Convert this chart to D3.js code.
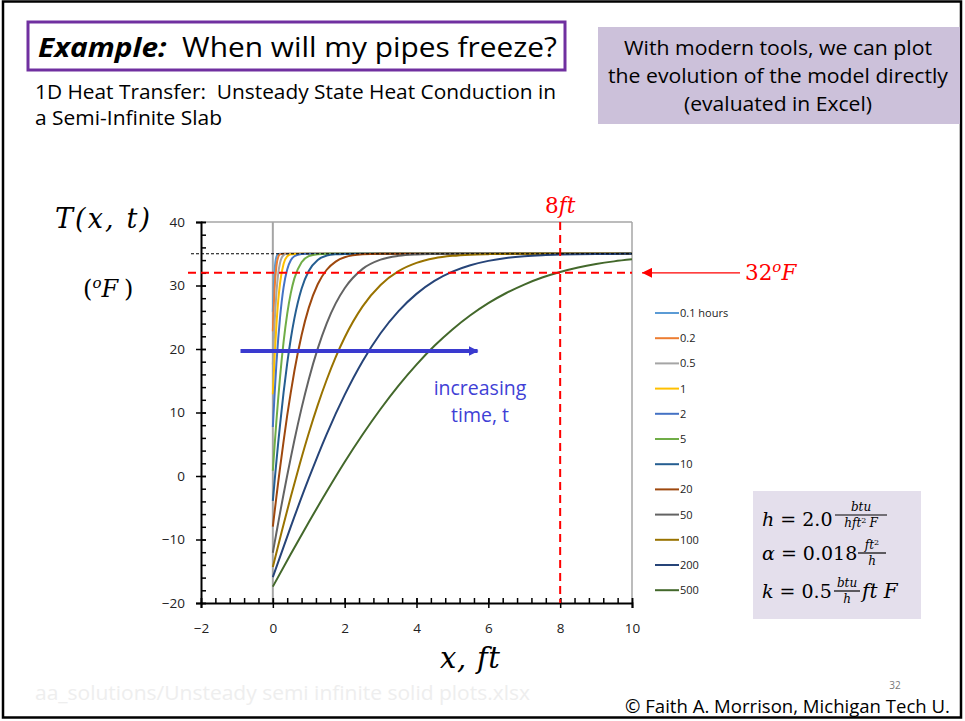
<!DOCTYPE html>
<html>
<head>
<meta charset="utf-8">
<script src="https://cdn.jsdelivr.net/npm/d3@7"></script>
<style>
  body { margin: 0; background: #fff; }
  svg text { font-family: "Open Sans", Lato, sans-serif; }
  .math { font-family: "DejaVu Serif", "Liberation Serif", serif; font-style: italic; }
  .up { font-style: normal; }
</style>
</head>
<body>
<svg id="chart" width="965" height="721"></svg>
<script>
// ---- data ----
const seriesNames = ["0.1 hours", "0.2", "0.5", "1", "2", "5", "10", "20", "50", "100", "200", "500"];
const seriesColors = ["#5b9bd5", "#ed7d31", "#a5a5a5", "#ffc000", "#4472c4", "#70ad47",
                      "#255e91", "#9e480e", "#636363", "#997300", "#264478", "#43682b"];

// x positions (ft) of the sampled points
const xFine   = [0, 0.05, 0.1, 0.15, 0.2, 0.3, 0.4, 0.5, 0.6, 0.8, 1, 1.25, 1.5, 1.75, 2, 2.5, 3, 3.5, 4, 4.5, 5, 6, 7, 8, 9, 10];
const xMid    = [0, 0.25, 0.5, 0.75, 1, 1.25, 1.5, 1.75, 2, 2.5, 3, 3.5, 4, 4.5, 5, 5.5, 6, 6.5, 7, 8, 9, 10];
const xCoarse = [0, 0.5, 1, 1.5, 2, 2.5, 3, 3.5, 4, 4.5, 5, 5.5, 6, 6.5, 7, 7.5, 8, 8.5, 9, 9.5, 10];

// temperatures (F) for each time, on the grids above
const T_0_1 = [25.85, 32.34, 34.52, 34.95, 35, 35, 35, 35, 35, 35, 35, 35, 35, 35, 35, 35, 35, 35, 35, 35, 35, 35, 35, 35, 35, 35];
const T_0_2 = [22.78, 29.58, 33.10, 34.49, 34.90, 35, 35, 35, 35, 35, 35, 35, 35, 35, 35, 35, 35, 35, 35, 35, 35, 35, 35, 35, 35, 35];
const T_0_5 = [17.54, 24.16, 28.84, 31.86, 33.54, 34.78, 34.98, 35, 35, 35, 35, 35, 35, 35, 35, 35, 35, 35, 35, 35, 35, 35, 35, 35, 35, 35];
const T_1   = [12.87, 18.91, 23.81, 27.60, 30.34, 33.44, 34.58, 34.91, 34.98, 35, 35, 35, 35, 35, 35, 35, 35, 35, 35, 35, 35, 35, 35, 35, 35, 35];
const T_2   = [7.72, 12.96, 17.74, 21.63, 24.92, 29.75, 32.53, 33.97, 34.61, 34.96, 35, 35, 35, 35, 35, 35, 35, 35, 35, 35, 35, 35, 35, 35, 35, 35];
const T_5   = [0.82, 4.88, 8.70, 12.24, 15.53, 21.15, 25.53, 28.80, 31.12, 33.67, 34.62, 34.94, 34.99, 35, 35, 35, 35, 35, 35, 35, 35, 35, 35, 35, 35, 35];
const T_10  = [-3.91, -0.75, 2.30, 5.25, 8.01, 13.20, 17.72, 21.61, 24.82, 29.50, 32.29, 34.02, 34.70, 34.92, 34.98, 35, 35, 35, 35, 35, 35, 35, 35, 35, 35, 35];
const T_20  = [-7.98, -5.60, -3.26, -0.97, 1.25, 5.51, 9.53, 13.18, 16.53, 22.17, 26.47, 30.19, 32.48, 33.77, 34.45, 34.91, 34.99, 35, 35, 35, 35, 35, 35, 35, 35, 35];
const T_50  = [-12.08, -10.50, -8.94, -7.38, -5.84, -2.84, 0.07, 2.89, 5.62, 10.69, 15.21, 20.06, 24.05, 27.18, 29.57, 32.62, 34.07, 34.68, 34.90, 34.97, 35, 35, 35, 35, 35, 35];
const T_100 = [-14.32, -8.69, -3.26, 1.89, 6.73, 11.16, 15.16, 18.72, 21.82, 26.72, 30.09, 32.26, 33.56, 34.29, 34.67, 34.86, 34.94, 34.98, 34.99, 35, 35, 35];
const T_200 = [-15.93, -7.96, -0.39, 6.61, 12.77, 18.08, 22.48, 25.97, 28.68, 30.72, 32.18, 33.19, 33.88, 34.33, 34.61, 34.78, 34.88, 34.94, 34.97, 34.98, 34.99];
const T_500 = [-17.42, -12.30, -7.29, -2.45, 2.20, 6.53, 10.55, 14.23, 17.54, 20.50, 23.08, 25.31, 27.22, 28.82, 30.15, 31.25, 32.12, 32.83, 33.38, 33.80, 34.12];

const xTickLabels = [-2, 0, 2, 4, 6, 8, 10];
const yTickLabels = [-20, -10, 0, 10, 20, 30, 40];
const initialTemp = 35;
const freezeTemp = 32;
const depthMark = 8;

const grids = [xFine, xFine, xFine, xFine, xFine, xFine, xFine, xFine, xFine, xMid, xCoarse, xCoarse];
const temps = [T_0_1, T_0_2, T_0_5, T_1, T_2, T_5, T_10, T_20, T_50, T_100, T_200, T_500];
const series = seriesNames.map((name, i) => ({
  name: name,
  color: seriesColors[i],
  points: grids[i].map((xv, j) => [xv, temps[i][j]])
}));

// ---- setup ----
const svg = d3.select("#chart");
const x = d3.scaleLinear().domain([-2, 10]).range([201, 632]);
const y = d3.scaleLinear().domain([-20, 40]).range([603, 222]);

// slide frame
svg.append("rect").attr("x", 3).attr("y", 1.5).attr("width", 958).attr("height", 716)
  .attr("fill", "none").attr("stroke", "#000").attr("stroke-width", 2.5);

// title box
svg.append("rect").attr("x", 28).attr("y", 22).attr("width", 537).attr("height", 48)
  .attr("fill", "#fff").attr("stroke", "#7030a0").attr("stroke-width", 3);
const title = svg.append("text").attr("x", 38).attr("y", 57).style("font-size", "27.5px")
  .attr("textLength", 519).attr("lengthAdjust", "spacingAndGlyphs");
title.append("tspan").style("font-weight", "bold").style("font-style", "italic").text("Example:");
title.append("tspan").attr("xml:space", "preserve").text("  When will my pipes freeze?");

svg.selectAll("text.sub")
  .data([["1D Heat Transfer:  Unsteady State Heat Conduction in", 521], ["a Semi-Infinite Slab", 187]])
  .enter().append("text")
  .attr("class", "sub")
  .attr("x", 35)
  .attr("y", (d, i) => 99 + i * 26)
  .attr("xml:space", "preserve")
  .attr("textLength", d => d[1]).attr("lengthAdjust", "spacingAndGlyphs")
  .style("font-size", "19.5px")
  .text(d => d[0]);

// note box top right
svg.append("rect").attr("x", 598).attr("y", 27).attr("width", 362).attr("height", 97).attr("fill", "#ccc1da");
svg.selectAll("text.note")
  .data([["With modern tools, we can plot", 308], ["the evolution of the model directly", 340], ["(evaluated in Excel)", 188]])
  .enter().append("text")
  .attr("class", "note")
  .attr("x", 778)
  .attr("y", (d, i) => 55 + i * 28)
  .attr("text-anchor", "middle")
  .attr("textLength", d => d[1]).attr("lengthAdjust", "spacingAndGlyphs")
  .style("font-size", "20px")
  .text(d => d[0]);

// ---- plot ----
// frame top and right
svg.append("line").attr("x1", x(-2)).attr("x2", x(10)).attr("y1", y(40)).attr("y2", y(40))
  .attr("stroke", "#a6a6a6").attr("stroke-width", 1.5);
svg.append("line").attr("x1", x(10)).attr("x2", x(10)).attr("y1", y(40)).attr("y2", y(-20))
  .attr("stroke", "#a6a6a6").attr("stroke-width", 1.5);

// surface line at x = 0
svg.append("line").attr("x1", x(0)).attr("x2", x(0)).attr("y1", y(40)).attr("y2", y(-20))
  .attr("stroke", "#a5a5a5").attr("stroke-width", 2);

const clip = svg.append("clipPath").attr("id", "plotclip");
clip.append("rect").attr("x", x(-2)).attr("y", y(40)).attr("width", x(10) - x(-2)).attr("height", y(-20) - y(40));

const line = d3.line().x(d => x(d[0])).y(d => y(d[1])).curve(d3.curveMonotoneX);
svg.append("g").attr("clip-path", "url(#plotclip)")
  .selectAll("path.curve")
  .data(series)
  .enter().append("path")
  .attr("class", "curve")
  .attr("d", d => line(d.points))
  .attr("fill", "none")
  .attr("stroke", d => d.color)
  .attr("stroke-width", 2);

// y axis
const yAxis = svg.append("g").attr("transform", `translate(${x(-2)},0)`)
  .call(d3.axisLeft(y).tickValues(yTickLabels).tickSize(5).tickPadding(11));
yAxis.select(".domain").attr("stroke-width", 2);
yAxis.selectAll(".tick line").attr("x1", 5).attr("stroke-width", 1.5);
yAxis.selectAll("text").style("font-size", "13.5px").attr("fill", "#222");
svg.append("g").attr("transform", `translate(${x(-2)},0)`)
  .call(d3.axisRight(y).tickValues(d3.range(-20, 41, 2)).tickSize(5).tickFormat(""))
  .call(g => g.select(".domain").remove())
  .selectAll("line").attr("stroke-width", 1.5);

// x axis
const xAxis = svg.append("g").attr("transform", `translate(0,${y(-20)})`)
  .call(d3.axisBottom(x).tickValues(xTickLabels).tickSize(5).tickPadding(15));
xAxis.select(".domain").attr("stroke-width", 2);
xAxis.selectAll(".tick line").attr("y1", -5).attr("stroke-width", 1.5);
xAxis.selectAll("text").style("font-size", "13.5px").attr("fill", "#222");
svg.append("g").attr("transform", `translate(0,${y(-20)})`)
  .call(d3.axisTop(x).tickValues(d3.range(0, 31).map(i => -2 + i * 0.4)).tickSize(5).tickFormat(""))
  .call(g => g.select(".domain").remove())
  .selectAll("line").attr("stroke-width", 1.5);

// reference lines
svg.append("line").attr("x1", 191).attr("x2", x(10)).attr("y1", y(initialTemp)).attr("y2", y(initialTemp))
  .attr("stroke", "#000").attr("stroke-width", 1).attr("stroke-dasharray", "3,2");
svg.append("line").attr("x1", 188).attr("x2", x(10)).attr("y1", y(freezeTemp)).attr("y2", y(freezeTemp))
  .attr("stroke", "#ff0000").attr("stroke-width", 2).attr("stroke-dasharray", "8,5");
svg.append("line").attr("x1", x(depthMark)).attr("x2", x(depthMark)).attr("y1", y(40)).attr("y2", y(-20))
  .attr("stroke", "#ff0000").attr("stroke-width", 2).attr("stroke-dasharray", "8,5");

// arrow markers
const defs = svg.append("defs");
defs.append("marker").attr("id", "redhead").attr("viewBox", "0 0 10 10").attr("refX", 10).attr("refY", 5)
  .attr("markerWidth", 10).attr("markerHeight", 10).attr("markerUnits", "userSpaceOnUse").attr("orient", "auto")
  .append("path").attr("d", "M0,0 L10,5 L0,10 Z").attr("fill", "#ff0000");
defs.append("marker").attr("id", "bluehead").attr("viewBox", "0 0 10 10").attr("refX", 9).attr("refY", 5)
  .attr("markerWidth", 10).attr("markerHeight", 10).attr("markerUnits", "userSpaceOnUse").attr("orient", "auto")
  .append("path").attr("d", "M0,0 L10,5 L0,10 Z").attr("fill", "#3a3acf");

svg.append("line").attr("x1", 740).attr("x2", 642).attr("y1", y(freezeTemp)).attr("y2", y(freezeTemp))
  .attr("stroke", "#ff0000").attr("stroke-width", 1.2).attr("marker-end", "url(#redhead)");
const t32 = svg.append("text").attr("class", "math").attr("x", 745).attr("y", 280)
  .attr("fill", "#ff0000").style("font-size", "21.5px");
t32.append("tspan").attr("class", "up").text("32");
t32.append("tspan").attr("dy", -8).style("font-size", "15px").text("o");
t32.append("tspan").attr("dy", 8).text("F");

const t8 = svg.append("text").attr("class", "math").attr("x", x(depthMark)).attr("y", 213)
  .attr("text-anchor", "middle").attr("fill", "#ff0000").style("font-size", "21.5px");
t8.append("tspan").attr("class", "up").text("8");
t8.append("tspan").text("ft");

svg.append("line").attr("x1", x(-0.9)).attr("x2", x(5.7)).attr("y1", y(19.7)).attr("y2", y(19.7))
  .attr("stroke", "#3a3acf").attr("stroke-width", 4).attr("marker-end", "url(#bluehead)");
svg.selectAll("text.inc")
  .data(["increasing", "time, t"])
  .enter().append("text")
  .attr("class", "inc")
  .attr("x", 480)
  .attr("y", (d, i) => 395 + i * 27)
  .attr("text-anchor", "middle")
  .attr("fill", "#3f3fd6")
  .style("font-size", "19.5px")
  .text(d => d);

// axis titles
svg.append("text").attr("class", "math").attr("x", 55).attr("y", 228).style("font-size", "27px")
  .attr("textLength", 95).attr("lengthAdjust", "spacing").text("T(x, t)");
const tu = svg.append("text").attr("class", "math").attr("x", 83).attr("y", 297).style("font-size", "24px");
tu.append("tspan").attr("class", "up").text("(");
tu.append("tspan").attr("dy", -9).style("font-size", "15px").text("o");
tu.append("tspan").attr("dy", 9).text("F");
tu.append("tspan").attr("class", "up").attr("dx", 6).text(")");
svg.append("text").attr("class", "math").attr("x", 470).attr("y", 668).attr("text-anchor", "middle")
  .style("font-size", "29px").attr("textLength", 60).attr("lengthAdjust", "spacing").text("x, ft");

// legend
const legend = svg.append("g").selectAll("g").data(series).enter().append("g")
  .attr("transform", (d, i) => `translate(655,${313 + i * 25.2})`);
legend.append("line").attr("x1", 0).attr("x2", 24).attr("stroke", d => d.color).attr("stroke-width", 2);
legend.append("text").attr("x", 25).attr("y", 4).style("font-size", "11px").attr("fill", "#222").text(d => d.name);

// parameter box
svg.append("rect").attr("x", 753).attr("y", 491).attr("width", 168).attr("height", 128).attr("fill", "#e4dfec");
function frac(cx, barY, w, num, den) {
  svg.append("line").attr("x1", cx - w / 2).attr("x2", cx + w / 2).attr("y1", barY).attr("y2", barY)
    .attr("stroke", "#000").attr("stroke-width", 1.2);
  const n = svg.append("text").attr("class", "math").attr("x", cx).attr("y", barY - 4)
    .attr("text-anchor", "middle").style("font-size", "12px");
  num(n);
  const dd = svg.append("text").attr("class", "math").attr("x", cx).attr("y", barY + 12)
    .attr("text-anchor", "middle").style("font-size", "12px");
  den(dd);
}
const eq1 = svg.append("text").attr("class", "math").attr("x", 762).attr("y", 526).style("font-size", "19px");
eq1.append("tspan").text("h");
eq1.append("tspan").attr("class", "up").attr("xml:space", "preserve").text(" = 2.0");
frac(861, 515, 52, t => t.text("btu"), t => {
  t.append("tspan").text("hft");
  t.append("tspan").attr("dy", -4).style("font-size", "8px").attr("class", "up").text("2");
  t.append("tspan").attr("dy", 4).attr("dx", 3).text("F");
});
const eq2 = svg.append("text").attr("class", "math").attr("x", 762).attr("y", 560).style("font-size", "19px");
eq2.append("tspan").text("α");
eq2.append("tspan").attr("class", "up").attr("xml:space", "preserve").text(" = 0.018");
frac(872, 553, 28, t => {
  t.append("tspan").text("ft");
  t.append("tspan").attr("dy", -4).style("font-size", "8px").attr("class", "up").text("2");
}, t => t.text("h"));
const eq3 = svg.append("text").attr("class", "math").attr("x", 762).attr("y", 598).style("font-size", "19px");
eq3.append("tspan").text("k");
eq3.append("tspan").attr("class", "up").attr("xml:space", "preserve").text(" = 0.5");
frac(847, 591, 26, t => t.text("btu"), t => t.text("h"));
svg.append("text").attr("class", "math").attr("x", 862).attr("y", 598).attr("xml:space", "preserve")
  .style("font-size", "20px").text("ft F");

// footer
svg.append("text").attr("x", 35).attr("y", 700).attr("fill", "#eeeeee").style("font-size", "19.5px")
  .attr("textLength", 495).attr("lengthAdjust", "spacingAndGlyphs")
  .text("aa_solutions/Unsteady semi infinite solid plots.xlsx");
svg.append("text").attr("x", 625).attr("y", 713).style("font-size", "17.5px")
  .attr("textLength", 325).attr("lengthAdjust", "spacingAndGlyphs")
  .text("© Faith A. Morrison, Michigan Tech U.");
svg.append("text").attr("x", 895).attr("y", 689).attr("text-anchor", "middle").attr("fill", "#777")
  .style("font-size", "10px").text("32");
</script>
</body>
</html>
